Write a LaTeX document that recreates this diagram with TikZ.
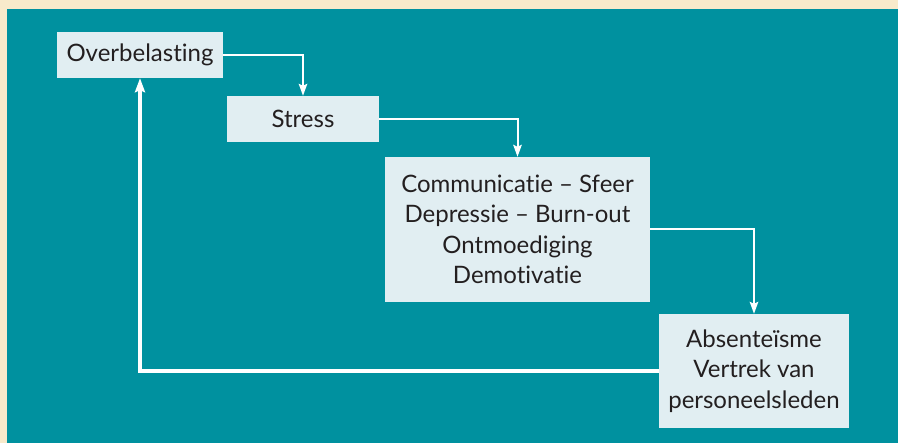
\documentclass[tikz,border=0pt]{standalone}
\usepackage{fontspec}
\setmainfont{Lato}[Ligatures=NoCommon]
\usepackage{xcolor}
\usepackage{tikz}
\usetikzlibrary{arrows.meta,positioning}
\definecolor{sand}{HTML}{F8EACB}
\definecolor{lagoon}{HTML}{00919F}
\definecolor{mist}{HTML}{E1EEF2}
\definecolor{ink}{HTML}{231F20}
\tikzset{
    every picture/.style={line join=miter},
    stagebox/.style={fill=mist,draw=none,inner sep=0pt,
      text=ink,font=\fontsize{24}{30.5}\selectfont,align=center},
    flowarrow/.style={-{Stealth[length=12pt,width=8.5pt,inset=2pt]},draw=white,
      line width=2pt},
    backarrow/.style={flowarrow,line width=4pt,
      -{Stealth[length=14pt,width=10pt,inset=2pt]}}
}
\begin{document}
\begin{tikzpicture}[x=1pt,y=-1pt]
  % frame
  \fill[sand] (0,0) rectangle (898,443);
  \fill[lagoon] (7,9) rectangle (898,443);
  \useasboundingbox (0,0) rectangle (898,443);

  \node[stagebox,minimum width=166pt,minimum height=46pt] (overload) at (140,55) {Overbelasting};
  \node[stagebox,minimum width=152pt,minimum height=46pt] (stress) at (303,119) {Stress};
  \node[stagebox,minimum width=265pt,minimum height=145pt] (effects) at (517.5,229.5)
    {Communicatie -- Sfeer\\Depressie -- Burn-out\\Ontmoediging\\Demotivatie};
  \node[stagebox,minimum width=190pt,minimum height=114pt] (leave) at (754,371)
    {Absente\"isme\\Vertrek van\\personeelsleden};

  \draw[flowarrow] (overload.east) -| (stress.north);
  \draw[flowarrow] (stress.east) -| (effects.north);
  \draw[flowarrow] (effects.east) -| (leave.north);
  \draw[backarrow] (leave.west) -| (overload.south);
\end{tikzpicture}
\end{document}
